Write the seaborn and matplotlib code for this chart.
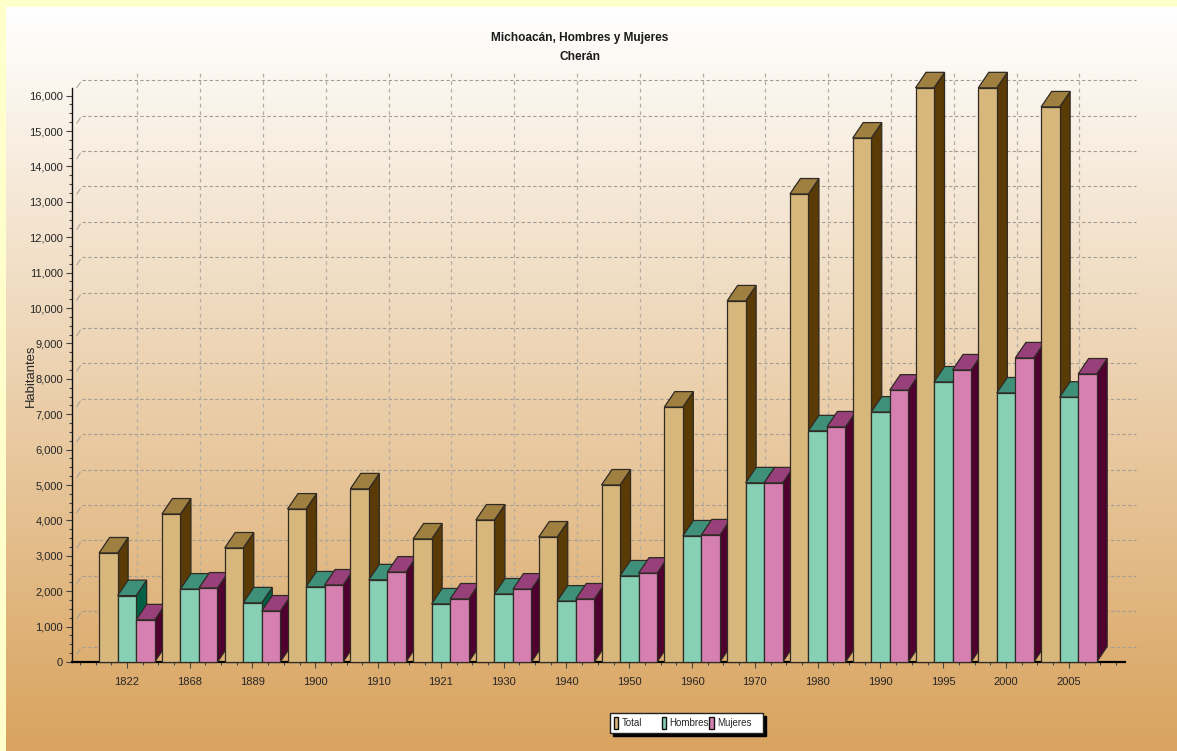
import numpy as np
import pandas as pd
import matplotlib
matplotlib.use("Agg")
import matplotlib.pyplot as plt
import seaborn as sns
from matplotlib.patches import Polygon, Rectangle
from matplotlib.ticker import MultipleLocator, FuncFormatter

# ======================================================
# Data
# ======================================================

years = ["1822", "1868", "1889", "1900", "1910", "1921", "1930", "1940",
         "1950", "1960", "1970", "1980", "1990", "1995", "2000", "2005"]

total = [3080, 4180, 3220, 4320, 4890, 3475, 4010, 3530,
         5000, 7200, 10200, 13220, 14800, 16220, 16220, 15680]
hombres = [1875, 2060, 1670, 2120, 2320, 1640, 1920, 1720,
           2430, 3560, 5060, 6530, 7060, 7910, 7600, 7480]
mujeres = [1190, 2090, 1440, 2175, 2540, 1780, 2060, 1780,
           2510, 3590, 5060, 6640, 7680, 8250, 8590, 8135]

series_names = ["Total", "Hombres", "Mujeres"]
y_ticks = list(range(0, 16001, 1000))

df = pd.DataFrame({
    "Year": years * 3,
    "Serie": [n for n in series_names for _ in years],
    "Habitantes": total + hombres + mujeres,
})

# ======================================================
# Style
# ======================================================

W, H = 1177, 751
front = ["#D8B77C", "#87CFB5", "#D580B0"]
side = ["#5A3A05", "#006045", "#50002F"]
top = ["#A08040", "#3F9078", "#97407A"]
edge = "#2F2A24"
grid_col = "#A39D93"
text_col = "#262626"

sns.set_theme(style="white")
plt.rcParams["font.family"] = ["Liberation Sans", "DejaVu Sans"]

fig = plt.figure(figsize=(W / 100, H / 100), dpi=100, facecolor="#FFFFCC")


def fx(x):
    return x / W


def fy(y):
    return 1 - y / H


# gradient background panel
bg = fig.add_axes([fx(6), 0, 1 - fx(6), fy(7)], zorder=-1)
grad = np.linspace(0, 1, 256).reshape(-1, 1, 1)
c0 = np.array([1.0, 1.0, 1.0]).reshape(1, 1, 3)
c1 = np.array([0.85, 0.64, 0.37]).reshape(1, 1, 3)
bg.imshow(c0 + (c1 - c0) * grad, aspect="auto")
bg.axis("off")

# ======================================================
# Plot
# ======================================================

left, right, y_top, y_base = 71.5, 1125.2, 87.5, 662
x_origin, x_step = 126.9, 62.8
ax = fig.add_axes([fx(left), fy(y_base), fx(right - left), (y_base - y_top) / H])
ax.patch.set_alpha(0)

sns.barplot(data=df, x="Year", y="Habitantes", hue="Serie", hue_order=series_names,
            palette=front, width=0.885, gap=0, saturation=1, legend=False, ax=ax,
            edgecolor=edge, linewidth=0.9)

ax.set_xlim((left - x_origin) / x_step, (right - x_origin) / x_step)
ax.set_ylim(0, 16229)

# 3D offset in data units
dx = 10.5 / x_step
dy = 15.5 / ((y_base - y_top) / 16229)

for h, container in enumerate(ax.containers):
    for i, bar in enumerate(container):
        z = 3 + i + h * 0.1
        x0 = bar.get_x()
        x1 = x0 + bar.get_width()
        v = bar.get_height()
        bar.set_zorder(z + 0.02)
        bar.set_clip_on(False)
        ax.add_patch(Polygon([(x1, 0), (x1 + dx, dy), (x1 + dx, v + dy), (x1, v)],
                             facecolor=side[h], edgecolor=edge, linewidth=0.9,
                             zorder=z, clip_on=False))
        ax.add_patch(Polygon([(x0, v), (x0 + dx, v + dy), (x1 + dx, v + dy), (x1, v)],
                             facecolor=top[h], edgecolor=edge, linewidth=0.9,
                             zorder=z + 0.01, clip_on=False))

# back wall grid
xmin, xmax = ax.get_xlim()
for v in y_ticks:
    ax.plot([xmin + dx, xmax + dx], [v + dy, v + dy], color=grid_col, lw=0.8,
            dashes=(3, 2.2), zorder=1, clip_on=False)
    ax.plot([xmin + dx * 0.5, xmin + dx * 0.85], [v + dy * 0.5, v + dy * 0.85],
            color=grid_col, lw=0.7, zorder=1, clip_on=False)
for i in range(len(years)):
    ax.plot([i + dx, i + dx], [dy, 16229 + dy], color="#B3ADA3", lw=0.9,
            dashes=(3, 3), zorder=1, clip_on=False)

# axes
ax.set_xticks(range(len(years)))
ax.set_xticklabels(years)
ax.xaxis.set_minor_locator(MultipleLocator(0.25))
ax.set_yticks(y_ticks)
ax.yaxis.set_minor_locator(MultipleLocator(250))
ax.yaxis.set_major_formatter(FuncFormatter(lambda v, p: f"{int(v):,}"))
ax.tick_params(axis="both", which="major", length=4, width=0.8, color="#444444",
               labelsize=8, labelcolor=text_col, pad=2, left=True, bottom=True)
ax.tick_params(axis="both", which="minor", length=2, width=0.8, color="#444444",
               left=True, bottom=True)
ax.tick_params(axis="x", which="major", pad=7)
sns.despine(ax=ax, top=True, right=True)
ax.spines["left"].set_color("#111111")
ax.spines["left"].set_linewidth(1)
ax.spines["bottom"].set_color("#000000")
ax.spines["bottom"].set_linewidth(1.6)
ax.set_xlabel("")
ax.set_ylabel("")

# ======================================================
# Titles
# ======================================================

fig.text(fx(580), fy(38), "Michoacán, Hombres y Mujeres", ha="center", va="center",
         fontsize=8.6, fontweight="bold", color="#1A1A1A")
fig.text(fx(580), fy(57), "Cherán", ha="center", va="center",
         fontsize=8.6, fontweight="bold", color="#1A1A1A")
fig.text(fx(31), fy(376), "Habitantes", rotation=90, ha="center", va="center",
         fontsize=9.4, color=text_col)


# ======================================================
# Legend
# ======================================================

def box(x, y, w, h, fc, ec, lw=1.0, z=6):
    fig.add_artist(Rectangle((fx(x), fy(y + h)), w / W, h / H, transform=fig.transFigure,
                             facecolor=fc, edgecolor=ec, linewidth=lw, zorder=z))


box(613, 716, 153, 20, "#000000", "#000000", z=5)
box(610, 713, 153, 20, "#FFFFFF", "#222222")

legend_x = [613.5, 661.5, 709]
for name, color, lx in zip(series_names, front, legend_x):
    box(lx, 717, 4.5, 12, color, "#111111", z=7)
    fig.text(fx(lx + 8), fy(723.5), name, ha="left", va="center", fontsize=7,
             color=text_col, zorder=7)

fig.savefig("out.png", dpi=100, facecolor=fig.get_facecolor())
